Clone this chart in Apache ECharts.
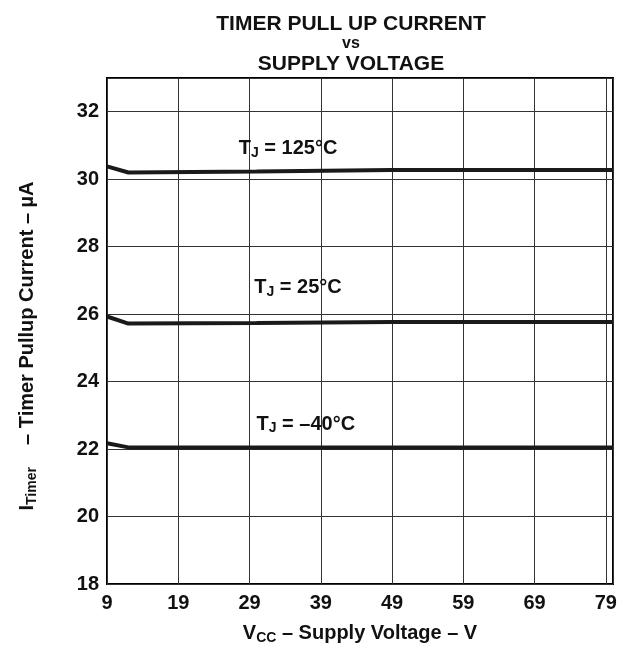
<!DOCTYPE html>
<html>
<head>
<meta charset="utf-8">
<script src="https://cdn.jsdelivr.net/npm/echarts@6/dist/echarts.min.js"></script>
<style>
  html, body { margin: 0; padding: 0; background: #fff; }
  #chart { width: 628px; height: 666px; }
</style>
</head>
<body>
<div id="chart"></div>
<script>
// supply voltage (V) sample points for each curve
const vcc125 = [9, 12, 30, 49, 80]
const cur125 = [30.38, 30.2, 30.23, 30.27, 30.27]
const vcc25 = [9, 12, 30, 49, 80]
const cur25 = [25.93, 25.72, 25.74, 25.77, 25.77]
const vccM40 = [9, 12, 80]
const curM40 = [22.17, 22.05, 22.05]

// curve labels: [x, y, text]
const curveLabels = [
  [34.4, 30.92, '125°C'],
  [35.8, 26.8, '25°C'],
  [36.9, 22.74, '–40°C'],
]

const font = 'Liberation Sans, Arial, Helvetica, sans-serif'
const pairs = (xs, ys) => xs.map((x, i) => [x, ys[i]])

const main = { fontFamily: font, fontWeight: 'bold', fontSize: 20, color: '#111' }
const sub = { fontFamily: font, fontWeight: 'bold', fontSize: 14, color: '#111', verticalAlign: 'bottom', padding: [9, 0, 0, 0] }

const chart = echarts.init(document.getElementById('chart'))

const lineSeries = (data) => ({
  type: 'line',
  data,
  symbol: 'none',
  lineStyle: { color: '#1a1a1a', width: 4 },
  z: 5,
})

chart.setOption({
  animation: false,
  title: {
    text: '{a|TIMER PULL UP CURRENT}\n{b|vs}\n{a|SUPPLY VOLTAGE}',
    left: 346,
    textAlign: 'center',
    top: 9,
    textStyle: {
      rich: {
        a: { fontFamily: font, fontWeight: 'bold', fontSize: 21, color: '#111', lineHeight: 20 },
        b: { fontFamily: font, fontWeight: 'bold', fontSize: 16, color: '#111', lineHeight: 20 },
      },
    },
  },
  grid: { left: 107, right: 15, top: 78, bottom: 82, show: true, borderColor: '#000', borderWidth: 2 },
  xAxis: {
    type: 'value',
    min: 9,
    max: 80,
    interval: 10,
    axisLine: { show: false },
    axisTick: { show: false },
    axisLabel: { showMaxLabel: false, color: '#111', fontFamily: font, fontWeight: 'bold', fontSize: 20, margin: 9 },
    splitLine: { lineStyle: { color: '#333', width: 1 } },
    name: '{m|V}{s|CC}{m| – Supply Voltage – V}',
    nameLocation: 'middle',
    nameGap: 38,
    nameTextStyle: { rich: { m: main, s: sub } },
  },
  yAxis: {
    type: 'value',
    min: 18,
    max: 33,
    interval: 2,
    axisLine: { show: false },
    axisTick: { show: false },
    axisLabel: { showMaxLabel: false, color: '#111', fontFamily: font, fontWeight: 'bold', fontSize: 20, margin: 8 },
    splitLine: { lineStyle: { color: '#333', width: 1 } },
    name: '{m|I}{s|Timer}{m|    – Timer Pullup Current – µA}{e| }',
    nameLocation: 'middle',
    nameGap: 68,
    nameTextStyle: { rich: { m: main, s: sub, e: { fontSize: 20, width: 30 } } },
  },
  series: [
    lineSeries(pairs(vcc125, cur125)),
    lineSeries(pairs(vcc25, cur25)),
    lineSeries(pairs(vccM40, curM40)),
    {
      type: 'scatter',
      symbolSize: 0,
      itemStyle: { opacity: 1 },
      data: curveLabels.map((d) => ({ value: [d[0], d[1]], name: d[2] })),
      label: {
        show: true,
        position: 'inside',
        color: '#111',
        opacity: 1,
        formatter: (p) => '{m|T}{s|J}{m| = ' + p.name + '}',
        rich: { m: main, s: sub },
      },
      z: 6,
    },
  ],
})
</script>
</body>
</html>
